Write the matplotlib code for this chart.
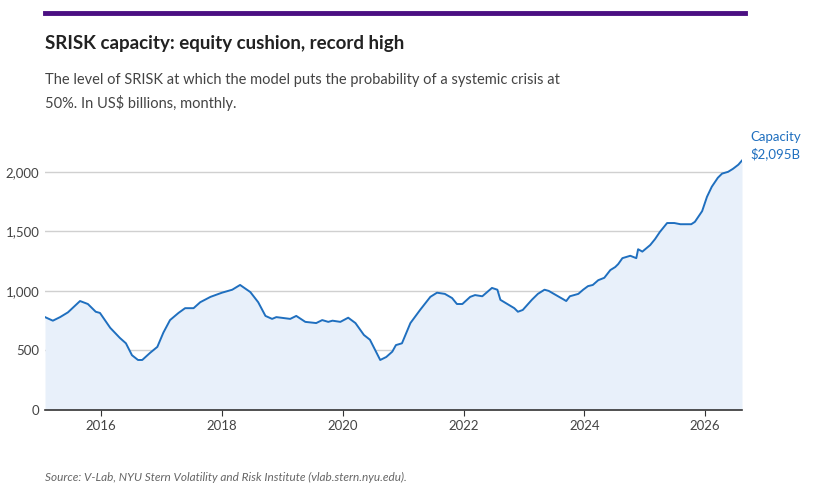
import matplotlib
matplotlib.use("Agg")
import matplotlib.pyplot as plt
from matplotlib.ticker import FuncFormatter

plt.rcParams["font.family"] = ["Lato", "DejaVu Sans"]

# decimal year, SRISK capacity (US$ bn)
years = [2015.07, 2015.2, 2015.32, 2015.45, 2015.65, 2015.78, 2015.91, 2015.98, 2016.15,
         2016.31, 2016.41, 2016.51, 2016.61, 2016.68, 2016.81, 2016.93, 2017.03, 2017.14,
         2017.28, 2017.39, 2017.53, 2017.64, 2017.81, 2018.0, 2018.17, 2018.3, 2018.47,
         2018.6, 2018.72, 2018.83, 2018.9, 2019.13, 2019.23, 2019.38, 2019.56, 2019.66,
         2019.76, 2019.83, 2019.96, 2020.09, 2020.21, 2020.35, 2020.45, 2020.62, 2020.72,
         2020.82, 2020.88, 2020.98, 2021.12, 2021.28, 2021.45, 2021.56, 2021.69, 2021.81,
         2021.89, 2021.98, 2022.11, 2022.19, 2022.31, 2022.39, 2022.47, 2022.56, 2022.61,
         2022.84, 2022.9, 2022.98, 2023.13, 2023.23, 2023.34, 2023.41, 2023.53, 2023.65,
         2023.7, 2023.76, 2023.9, 2023.98, 2024.06, 2024.14, 2024.23, 2024.33, 2024.43,
         2024.51, 2024.56, 2024.63, 2024.76, 2024.86, 2024.89, 2024.96, 2025.09, 2025.17,
         2025.25, 2025.37, 2025.49, 2025.59, 2025.77, 2025.83, 2025.95, 2026.03, 2026.11,
         2026.21, 2026.28, 2026.38, 2026.46, 2026.55, 2026.61]
capacity = [780, 750, 780, 820, 915, 890, 825, 815, 690, 605, 560, 460, 420, 420, 480, 530,
            650, 755, 815, 855, 855, 905, 950, 985, 1010, 1050, 990, 905, 790, 765, 780,
            765, 790, 740, 730, 755, 740, 750, 740, 775, 730, 630, 590, 420, 445, 490, 545,
            560, 730, 840, 950, 985, 975, 940, 890, 890, 950, 965, 955, 990, 1025, 1010, 925,
            855, 825, 840, 925, 975, 1010, 1000, 965, 930, 915, 955, 975, 1010, 1040, 1050,
            1090, 1110, 1175, 1200, 1225, 1275, 1295, 1275, 1350, 1330, 1385, 1435, 1495,
            1570, 1570, 1560, 1560, 1580, 1670, 1790, 1875, 1950, 1985, 2000, 2025, 2060, 2095]
yticks = [0, 500, 1000, 1500, 2000]
xticks = [2016, 2018, 2020, 2022, 2024, 2026]

line_c = "#1f6fbf"
fig = plt.figure(figsize=(8.25, 4.95), dpi=100)
fig.add_artist(plt.Line2D([45 / 825, 745 / 825], [1 - 13 / 495] * 2, color="#4b0f82", lw=3.5))
fig.text(45 / 825, 1 - 44 / 495, "SRISK capacity: equity cushion, record high",
         fontsize=13.5, fontweight="bold", color="#222222", va="center")
fig.text(45 / 825, 1 - 92 / 495,
         "The level of SRISK at which the model puts the probability of a systemic crisis at\n"
         "50%. In US$ billions, monthly.", fontsize=10.5, color="#444444", va="center",
         linespacing=1.55)
fig.text(45 / 825, 1 - 477 / 495, "Source: V-Lab, NYU Stern Volatility and Risk Institute (vlab.stern.nyu.edu).",
         fontsize=8.5, style="italic", color="#666666", va="center")

ax = fig.add_axes([45 / 825, 1 - 410 / 495, 697 / 825, (410 - 148) / 495])
ax.fill_between(years, capacity, color="#e8f0fa", lw=0)
ax.plot(years, capacity, color=line_c, lw=1.4)
ax.set_xlim(2015.07, 2026.61)
ax.set_ylim(0, 2200)
ax.set_yticks(yticks)
ax.yaxis.set_major_formatter(FuncFormatter(lambda v, p: f"{int(v):,}"))
ax.set_xticks(xticks)
ax.grid(axis="y", color="#d0d0d0", lw=1)
ax.set_axisbelow(True)
for s in ["top", "right", "left"]:
    ax.spines[s].set_visible(False)
ax.spines["bottom"].set_color("#333333")
ax.spines["bottom"].set_linewidth(1.2)
ax.tick_params(axis="y", length=0, labelsize=9.5, labelcolor="#444444", pad=4)
ax.tick_params(axis="x", length=4, color="#333333", labelsize=9.5, labelcolor="#444444")
ax.text(1.012, capacity[-1], "Capacity\n$2,095B", transform=ax.get_yaxis_transform(),
        color=line_c, fontsize=9.5, va="bottom", linespacing=1.4)
fig.savefig("out.png", dpi=100)
